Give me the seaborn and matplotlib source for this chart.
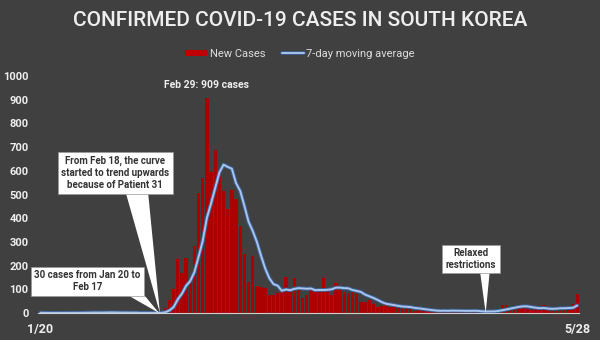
import numpy as np
import pandas as pd
import matplotlib
matplotlib.use("Agg")
import matplotlib.pyplot as plt
import matplotlib.patheffects as pe
from matplotlib.patches import Polygon, Patch
from matplotlib.lines import Line2D
import seaborn as sns

# ---------------- data ----------------
start_date = "2020-01-20"
end_date = "2020-05-28"
# daily new confirmed cases, Jan 20 .. May 28
new_cases = [
    # Jan 20 - Jan 31
    1, 0, 0, 0, 1, 0, 1, 1, 0, 0, 3, 4,
    # Feb 1 - Feb 29
    1, 3, 0, 1, 3, 5, 0, 0, 3, 1, 0, 0, 0, 0, 0, 2, 0,
    1, 20, 53, 100, 229, 169, 231, 144, 284, 505, 571, 909,
    # Mar 1 - Mar 31
    595, 686, 600, 516, 438, 518, 483, 367, 248, 131, 242, 114, 110, 107, 76,
    74, 84, 93, 152, 87, 147, 98, 64, 76, 100, 104, 91, 146, 105, 78, 125,
    # Apr 1 - Apr 30
    101, 89, 86, 94, 81, 47, 47, 53, 39, 27, 30, 32, 25, 27, 27,
    22, 22, 18, 8, 13, 9, 11, 8, 6, 10, 10, 10, 14, 9, 4,
    # May 1 - May 28
    9, 6, 13, 8, 3, 2, 4, 12, 18, 34, 35, 27, 26, 29, 27,
    19, 13, 15, 13, 32, 12, 20, 23, 25, 16, 19, 40, 79,
]
tick_labels = ["1/20", "5/28"]
series_names = ["New Cases", "7-day moving average"]
title = "CONFIRMED COVID-19 CASES IN SOUTH KOREA"
peak_label = "Feb 29: 909 cases"
callout_texts = [
    "From Feb 18, the curve\nstarted to trend upwards\nbecause of Patient 31",
    "30 cases from Jan 20 to\nFeb 17",
    "Relaxed\nrestrictions",
]

dates = pd.date_range(start_date, end_date, freq="D")
df = pd.DataFrame({"date": dates, "cases": new_cases})
df["day"] = np.arange(len(df))
df["ma7"] = df["cases"].rolling(7, min_periods=1).mean()

# ---------------- style ----------------
BG = "#404040"
FG = "#eeeeee"
sns.set_theme(style="dark")
plt.rcParams["font.family"] = ["Roboto", "DejaVu Sans"]

fig = plt.figure(figsize=(6, 3.4), dpi=100, facecolor=BG)
ax = fig.add_axes([0.064, 0.0794, 0.9015, 0.697])
ax.set_facecolor(BG)

sns.barplot(data=df, x="day", y="cases", native_scale=True, color="#ad0000",
            saturation=1, width=0.8, ax=ax, edgecolor="none", zorder=2)
sns.lineplot(data=df, x="day", y="ma7", ax=ax, color="#a9c4ea", lw=1.4,
             zorder=3, path_effects=[pe.Stroke(linewidth=2.8, foreground="#3d6197"),
                                     pe.Normal()])

ax.set_xlim(-0.5, len(df) - 0.5)
ax.set_ylim(0, 1000)
ax.set_xlabel("")
ax.set_ylabel("")
ax.set_yticks(np.arange(0, 1001, 100))
ax.set_yticklabels([str(v) for v in range(0, 1001, 100)], fontsize=8,
                   fontweight="bold", color=FG)
ax.set_xticks([df["day"].iloc[0], df["day"].iloc[-1]])
ax.set_xticklabels(tick_labels, fontsize=9, fontweight="bold", color=FG)
ax.set_xticks(df["day"], minor=True)
ax.tick_params(axis="y", length=0, pad=7)
ax.tick_params(axis="x", which="major", length=0, pad=7)
ax.tick_params(axis="x", which="minor", length=2.5, width=0.6, color="#cfcfcf",
               direction="out")
for s in ["top", "right", "left"]:
    ax.spines[s].set_visible(False)
ax.spines["bottom"].set_color("#cfcfcf")
ax.spines["bottom"].set_linewidth(0.8)
ax.grid(False)
if ax.get_legend():
    ax.get_legend().remove()

# title and legend
fig.text(0.5, 0.94, title, ha="center", va="center", fontsize=15,
         fontweight="medium", color=FG)
handles = [Patch(facecolor="#c00000", edgecolor="none"),
           Line2D([], [], color="#a9c4ea", lw=1.4,
                  path_effects=[pe.Stroke(linewidth=2.6, foreground="#3d6197"), pe.Normal()])]
fig.legend(handles, series_names, loc="center", bbox_to_anchor=(0.5, 0.842),
           ncol=2, frameon=False, fontsize=8, labelcolor="#dddddd",
           handlelength=2.0, handleheight=0.45, handletextpad=0.2,
           columnspacing=1.5)

# peak label
ax.text(39.8, 962, peak_label, ha="center", va="center", fontsize=7.5,
        fontweight="bold", color=FG, clip_on=False)

# callouts
def callout(text, cx, cy, base, tip, fs=7):
    poly = Polygon([base[0], base[1], tip], closed=True, facecolor="white",
                   edgecolor="none", zorder=5, clip_on=False)
    ax.add_patch(poly)
    ax.text(cx, cy, text, ha="center", va="center", fontsize=fs,
            fontweight="bold", color="#333333", linespacing=1.25, zorder=6,
            bbox=dict(boxstyle="square,pad=0.35", facecolor="white",
                      edgecolor="#999999", linewidth=0.5))

callout(callout_texts[0], 18, 591, [(20.3, 520), (25.8, 520)], (28.7, 0))
callout(callout_texts[1], 11.3, 133, [(19, 95), (24, 95)], (28.5, 0))
callout(callout_texts[2], 103.5, 228, [(105.6, 180), (108, 180)], (107, 0))

fig.savefig("out.png", dpi=100, facecolor=BG)
